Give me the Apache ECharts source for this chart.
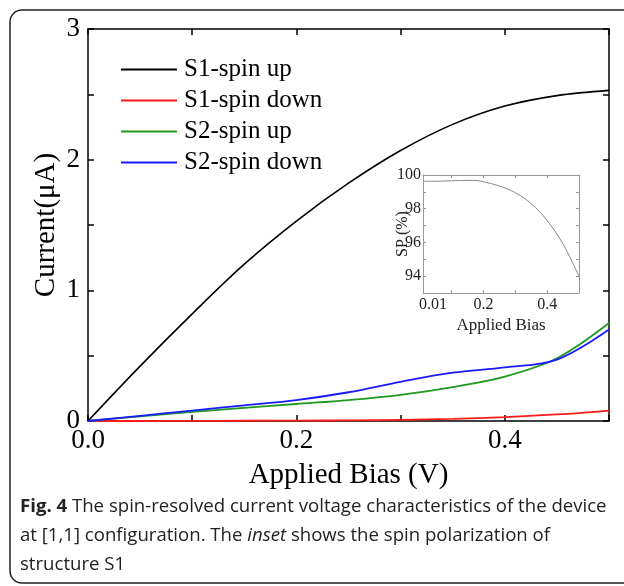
<!DOCTYPE html>
<html>
<head>
<meta charset="utf-8">
<script src="https://cdn.jsdelivr.net/npm/echarts@6/dist/echarts.min.js"></script>
<style>
  html, body { margin: 0; padding: 0; background: #fff; }
  #chart { width: 624px; height: 586px; }
</style>
</head>
<body>
<div id="chart"></div>
<script>
// bias (V) sampled for the I-V curves
const bias = [0, 0.05, 0.1, 0.15, 0.2, 0.25, 0.3, 0.35, 0.4, 0.45, 0.5];
const s1Up = [0, 0.42, 0.82, 1.2, 1.53, 1.82, 2.07, 2.27, 2.41, 2.49, 2.53];
const s1Down = [0, 0, 0.001, 0.002, 0.003, 0.005, 0.009, 0.016, 0.03, 0.05, 0.08];
const s2Up = [0, 0.035, 0.07, 0.1, 0.13, 0.16, 0.2, 0.26, 0.34, 0.48, 0.75];
const s2Down = [0, 0.04, 0.08, 0.12, 0.16, 0.22, 0.3, 0.37, 0.41, 0.47, 0.7];

// inset: spin polarization of S1
const spBias = [0.01, 0.05, 0.1, 0.15, 0.18, 0.2, 0.25, 0.3, 0.35, 0.4, 0.45, 0.5];
const spValues = [99.63, 99.63, 99.66, 99.68, 99.67, 99.6, 99.35, 98.95, 98.3, 97.3, 95.9, 94.0];

const seriesNames = ['S1-spin up', 'S1-spin down', 'S2-spin up', 'S2-spin down'];
const seriesColors = ['#000000', '#ff1a1a', '#1f9a1f', '#1a1aff'];

const serif = 'Liberation Serif';

const chart = echarts.init(document.getElementById('chart'));

const pairs = (xs, ys) => xs.map((x, i) => [x, ys[i]]);

const mainLine = (name, ys, color, width) => ({
  name: name,
  type: 'line',
  xAxisIndex: 0,
  yAxisIndex: 0,
  data: pairs(bias, ys),
  smooth: 0.35,
  symbol: 'none',
  lineStyle: { color: color, width: width },
  itemStyle: { color: color },
  z: 3,
});

const frameAxis = (extra) => Object.assign({
  axisLine: { show: true, onZero: false, lineStyle: { color: '#000', width: 1.5 } },
  axisTick: { show: true, inside: true, length: 6, lineStyle: { color: '#000', width: 1.5 } },
  splitLine: { show: false },
}, extra);

const insetAxis = (extra) => Object.assign({
  axisLine: { show: true, onZero: false, lineStyle: { color: '#999', width: 1 } },
  axisTick: { show: true, inside: true, length: 3, lineStyle: { color: '#999', width: 1 } },
  splitLine: { show: false },
}, extra);

const insetTicks = { show: true, inside: true, length: 3, customValues: [0.1, 0.2, 0.3, 0.4], lineStyle: { color: '#999' } };

const option = {
  backgroundColor: '#fff',
  animation: false,
  grid: [
    { left: 88, top: 29, width: 521, height: 392 },
    { left: 423, top: 175, width: 156, height: 118 },
  ],
  legend: {
    data: seriesNames,
    orient: 'vertical',
    left: 121,
    top: 57,
    padding: 0,
    icon: 'rect',
    itemWidth: 56,
    itemHeight: 2,
    itemGap: 6,
    textStyle: { fontFamily: serif, fontSize: 25, color: '#000', padding: [0, 0, 0, 2] },
  },
  xAxis: [
    frameAxis({
      type: 'value', gridIndex: 0, min: 0, max: 0.5, interval: 0.1,
      name: 'Applied Bias (V)', nameLocation: 'middle', nameGap: 40,
      nameTextStyle: { fontFamily: serif, fontSize: 29, color: '#000' },
      axisLabel: {
        fontFamily: serif, fontSize: 27, color: '#000', margin: 6,
        formatter: (v) => (Math.round(v * 10) % 2 === 0 ? v.toFixed(1) : ''),
      },
    }),
    frameAxis({
      type: 'value', gridIndex: 0, position: 'top', min: 0, max: 0.5, interval: 0.1,
      axisLabel: { show: false },
    }),
    insetAxis({
      type: 'value', gridIndex: 1, min: 0.01, max: 0.5,
      name: 'Applied Bias', nameLocation: 'middle', nameGap: 24,
      nameTextStyle: { fontFamily: serif, fontSize: 17, color: '#222' },
      axisTick: insetTicks,
      axisLabel: {
        fontFamily: serif, fontSize: 16, color: '#222', margin: 4,
        customValues: [0.01, 0.2, 0.4],
        formatter: (v) => (v < 0.05 ? '{m|0.01}' : v.toFixed(1)),
        rich: { m: { fontFamily: serif, fontSize: 16, color: '#222', padding: [0, 0, 0, 20] } },
      },
    }),
    insetAxis({
      type: 'value', gridIndex: 1, position: 'top', min: 0.01, max: 0.5,
      axisTick: insetTicks,
      axisLabel: { show: false },
    }),
  ],
  yAxis: [
    frameAxis({
      type: 'value', gridIndex: 0, min: 0, max: 3, interval: 0.5,
      name: 'Current(μA)', nameLocation: 'middle', nameGap: 27, nameRotate: 90,
      nameMoveOverlap: false,
      nameTextStyle: { fontFamily: serif, fontSize: 29, color: '#000' },
      axisLabel: {
        fontFamily: serif, fontSize: 27, color: '#000', margin: 8,
        formatter: (v) => (Number.isInteger(v) ? String(v) : ''),
      },
    }),
    frameAxis({
      type: 'value', gridIndex: 0, position: 'right', min: 0, max: 3, interval: 0.5,
      axisLabel: { show: false },
    }),
    insetAxis({
      type: 'value', gridIndex: 1, min: 93, max: 100, interval: 1,
      name: 'SP (%)', nameLocation: 'middle', nameGap: 12, nameRotate: 90,
      nameMoveOverlap: false,
      nameTextStyle: { fontFamily: serif, fontSize: 16, color: '#222' },
      axisLabel: {
        fontFamily: serif, fontSize: 16, color: '#222', margin: 2,
        formatter: (v) => (v % 2 === 0 ? String(v) : ''),
      },
    }),
    insetAxis({
      type: 'value', gridIndex: 1, position: 'right', min: 93, max: 100, interval: 1,
      axisLabel: { show: false },
    }),
  ],
  series: [
    mainLine(seriesNames[0], s1Up, seriesColors[0], 1.6),
    mainLine(seriesNames[1], s1Down, seriesColors[1], 1.8),
    mainLine(seriesNames[2], s2Up, seriesColors[2], 1.8),
    mainLine(seriesNames[3], s2Down, seriesColors[3], 1.8),
    {
      name: 'SP',
      type: 'line',
      xAxisIndex: 2,
      yAxisIndex: 2,
      data: pairs(spBias, spValues),
      smooth: 0.35,
      symbol: 'none',
      lineStyle: { color: '#888', width: 1 },
    },
  ],
  graphic: [
    {
      type: 'rect',
      shape: { x: 10, y: 10, width: 640, height: 573, r: 12 },
      style: { fill: null, stroke: '#222', lineWidth: 1.5 },
      z: -1,
    },
    {
      type: 'text',
      left: 20,
      top: 492,
      style: {
        text: '{b|Fig. 4} The spin-resolved current voltage characteristics of the device\n' +
          'at [1,1] configuration. The {i|inset} shows the spin polarization of\n' +
          'structure S1',
        fontFamily: 'Open Sans',
        fontSize: 18.6,
        lineHeight: 29,
        fill: '#222',
        rich: {
          b: { fontFamily: 'Open Sans', fontSize: 18.6, fontWeight: 'bold', fill: '#222' },
          i: { fontFamily: 'Open Sans', fontSize: 18.6, fontStyle: 'italic', fill: '#222' },
        },
      },
    },
  ],
};

chart.setOption(option);
</script>
</body>
</html>
